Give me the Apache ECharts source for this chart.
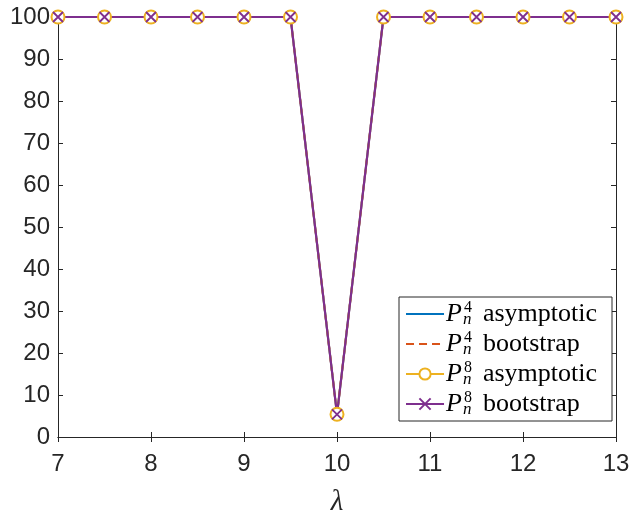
<!DOCTYPE html>
<html>
<head>
<meta charset="utf-8">
<script src="https://cdn.jsdelivr.net/npm/echarts@6/dist/echarts.min.js"></script>
<style>
  html, body { margin: 0; padding: 0; background: #fff; }
  #chart { width: 633px; height: 519px; }
</style>
</head>
<body>
<div id="chart"></div>
<script>
'use strict';
// lambda values on the x axis
const lambdas = [7, 7.5, 8, 8.5, 9, 9.5, 10, 10.5, 11, 11.5, 12, 12.5, 13];
// rejection rates (%) for each test
const p4Asym = [100, 100, 100, 100, 100, 100, 5.4, 100, 100, 100, 100, 100, 100];
const p4Boot = [100, 100, 100, 100, 100, 100, 5.4, 100, 100, 100, 100, 100, 100];
const p8Asym = [100, 100, 100, 100, 100, 100, 5.4, 100, 100, 100, 100, 100, 100];
const p8Boot = [100, 100, 100, 100, 100, 100, 5.4, 100, 100, 100, 100, 100, 100];
const xTicks = [7, 8, 9, 10, 11, 12, 13];
const yTicks = [0, 10, 20, 30, 40, 50, 60, 70, 80, 90, 100];

const axisColor = '#262626';
const pairs = vals => lambdas.map((x, i) => [x, vals[i]]);
const xMark = 'path://M0,0L10,10M10,0L0,10';
const serif = 'Liberation Serif, Times New Roman, serif';

// legend labels: P_n^k + word
const legendText = {
    'P4 asymptotic': ['4', 'asymptotic'],
    'P4 bootstrap': ['4', 'bootstrap'],
    'P8 asymptotic': ['8', 'asymptotic'],
    'P8 bootstrap': ['8', 'bootstrap']
};

const chart = echarts.init(document.getElementById('chart'), null, { renderer: 'canvas' });

const tickLabel = {
    color: axisColor,
    fontFamily: 'Liberation Sans, Arial, sans-serif',
    fontSize: 24
};

const boxAxis = {
    axisLine: { show: true, lineStyle: { color: axisColor, width: 1 } },
    axisTick: { show: true, inside: true, length: 5, lineStyle: { color: axisColor } },
    axisLabel: { show: false },
    splitLine: { show: false }
};

const option = {
    animation: false,
    backgroundColor: '#fff',
    grid: { left: 58, right: 17, top: 17, bottom: 82, outerBoundsMode: 'none', containLabel: false },
    xAxis: [{
        type: 'value',
        min: 7,
        max: 13,
        interval: 1,
        name: 'λ',
        nameLocation: 'middle',
        nameGap: 51,
        nameTextStyle: {
            color: axisColor,
            fontFamily: serif,
            fontStyle: 'italic',
            fontSize: 29
        },
        axisLine: { lineStyle: { color: axisColor, width: 1 } },
        axisTick: { inside: true, length: 5, lineStyle: { color: axisColor } },
        axisLabel: Object.assign({ margin: 15, formatter: v => xTicks.includes(v) ? String(v) : '' }, tickLabel),
        splitLine: { show: false }
    }, Object.assign({
        type: 'value',
        position: 'top',
        min: 7,
        max: 13,
        interval: 1
    }, boxAxis)],
    yAxis: [{
        type: 'value',
        min: 0,
        max: 100,
        interval: 10,
        axisLine: { show: true, lineStyle: { color: axisColor, width: 1 } },
        axisTick: { show: true, inside: true, length: 5, lineStyle: { color: axisColor } },
        axisLabel: Object.assign({ margin: 8, formatter: v => yTicks.includes(v) ? String(v) : '' }, tickLabel),
        splitLine: { show: false }
    }, Object.assign({
        type: 'value',
        position: 'right',
        min: 0,
        max: 100,
        interval: 10
    }, boxAxis)],
    legend: {
        orient: 'vertical',
        right: 21,
        top: 297,
        padding: [3, 15, 3, 6],
        itemWidth: 38,
        itemHeight: 14,
        itemGap: 2,
        backgroundColor: '#fff',
        borderColor: axisColor,
        borderWidth: 1,
        borderRadius: 0,
        formatter: name => {
            const [k, word] = legendText[name];
            return `{p|P}{n|n}{k|${k}}{w|${word}}`;
        },
        textStyle: {
            color: '#000',
            padding: [0, 0, 0, -3],
            rich: {
                p: { fontFamily: serif, fontStyle: 'italic', fontSize: 26, lineHeight: 28, verticalAlign: 'middle' },
                n: { fontFamily: serif, fontStyle: 'italic', fontSize: 17, width: 0.01, verticalAlign: 'bottom', lineHeight: 28, padding: [0, 0, 0, 1] },
                k: { fontFamily: serif, fontSize: 16, verticalAlign: 'top', lineHeight: 28, padding: [0, 0, 0, 1] },
                w: { fontFamily: serif, fontSize: 26, lineHeight: 28, verticalAlign: 'middle', padding: [0, 0, 0, 11] }
            }
        },
        data: [
            { name: 'P4 asymptotic', itemStyle: { opacity: 0 } },
            { name: 'P4 bootstrap', itemStyle: { opacity: 0 } },
            'P8 asymptotic',
            'P8 bootstrap'
        ]
    },
    series: [{
        name: 'P4 asymptotic',
        type: 'line',
        data: pairs(p4Asym),
        symbol: 'circle',
        showSymbol: false,
        color: '#0072BD',
        lineStyle: { width: 2, color: '#0072BD' }
    }, {
        name: 'P4 bootstrap',
        type: 'line',
        data: pairs(p4Boot),
        symbol: 'circle',
        showSymbol: false,
        color: '#D95319',
        lineStyle: { width: 2, color: '#D95319', type: [8, 5] }
    }, {
        name: 'P8 asymptotic',
        type: 'line',
        data: pairs(p8Asym),
        symbol: 'emptyCircle',
        symbolSize: 13,
        color: '#EDB120',
        itemStyle: { color: '#EDB120', borderWidth: 1.8 },
        lineStyle: { width: 2, color: '#EDB120' }
    }, {
        name: 'P8 bootstrap',
        type: 'line',
        data: pairs(p8Boot),
        symbol: xMark,
        symbolSize: 10,
        color: '#7E2F8E',
        itemStyle: { color: 'none', borderColor: '#7E2F8E', borderWidth: 1.8 },
        lineStyle: { width: 2.2, color: '#7E2F8E' }
    }]
};

chart.setOption(option);
</script>
</body>
</html>
